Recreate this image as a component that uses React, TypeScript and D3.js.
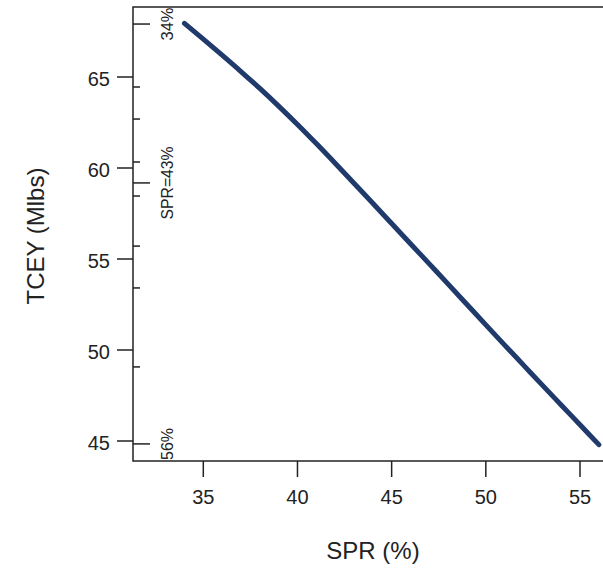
import React from "react";
import * as d3 from "d3";

const sprValues = [34, 35, 36, 37, 38, 39, 40, 41, 42, 43, 44, 45, 46, 47, 48, 49, 50, 51, 52, 53, 54, 55, 56];
const tceyValues = [67.95, 67.08, 66.2, 65.3, 64.37, 63.4, 62.39, 61.34, 60.26, 59.16, 58.06, 56.95, 55.84, 54.73, 53.62, 52.5, 51.38, 50.27, 49.17, 48.07, 46.98, 45.89, 44.8];

const xTicks = [35, 40, 45, 50, 55];
const yTicks = [45, 50, 55, 60, 65];

// inner reference marks on the y axis
const minorMarks = [64.45, 62.69, 60.33, 58.46, 55.71, 53.41, 49.07];
const majorMarkValues = [67.91, 59.18, 44.84];
const majorMarkLabels = ["34%", "SPR=43%", "56%"];
const majorMarkLengths = [33, 73, 32];

export default function App() {
  const W = 603;
  const H = 584;
  const left = 133;
  const top = 7;
  const bottom = 461;
  const right = 640;

  const x = d3.scaleLinear().domain([35, 55]).range([203.3, 580]);
  const y = d3.scaleLinear().domain([45, 65]).range([441, 77]);

  const pts: [number, number][] = sprValues.map((s, i) => [s, tceyValues[i]]);
  const line = d3
    .line<[number, number]>()
    .x((d) => x(d[0]))
    .y((d) => y(d[1]))
    .curve(d3.curveMonotoneX);

  const font = "'Liberation Sans', Arial, sans-serif";
  const navy = "#1f3a6b";

  return (
    <svg
      width={W}
      height={H}
      style={{ position: "absolute", left: 0, top: 0, background: "#fff" }}
      fontFamily={font}
    >
      <defs>
        <clipPath id="plotclip">
          <rect x={left} y={top} width={right - left} height={bottom - top} />
        </clipPath>
      </defs>
      <rect x={0} y={0} width={W} height={H} fill="#fff" />

      {/* curve */}
      <path
        d={line(pts) || ""}
        fill="none"
        stroke={navy}
        strokeWidth={5}
        strokeLinecap="round"
        strokeLinejoin="round"
        clipPath="url(#plotclip)"
      />

      {/* box */}
      <rect x={left} y={top} width={right - left} height={bottom - top} fill="none" stroke="#222" strokeWidth={1.5} />

      {/* inner minor marks */}
      {minorMarks.map((v, i) => (
        <line key={"mm" + i} x1={left} x2={left + 7} y1={y(v)} y2={y(v)} stroke="#222" strokeWidth={1.5} />
      ))}
      {/* inner major marks with labels */}
      {majorMarkValues.map((v, i) => (
        <g key={"MM" + i}>
          <line x1={left} x2={left + 17} y1={y(v)} y2={y(v)} stroke="#222" strokeWidth={1.5} />
          <text
            transform={`translate(173,${y(v)}) rotate(-90)`}
            textAnchor="middle"
            fontSize={17}
            fill="#222"
            textLength={majorMarkLengths[i]}
            lengthAdjust="spacingAndGlyphs"
          >
            {majorMarkLabels[i]}
          </text>
        </g>
      ))}

      {/* y axis ticks */}
      {yTicks.map((t) => (
        <g key={"y" + t}>
          <line x1={left - 16} x2={left} y1={y(t)} y2={y(t)} stroke="#222" strokeWidth={1.5} />
          <text x={110} y={y(t) + 2} dy="0.36em" textAnchor="end" fontSize={20} fill="#222">
            {t}
          </text>
        </g>
      ))}

      {/* x axis ticks */}
      {xTicks.map((t) => (
        <g key={"x" + t}>
          <line x1={x(t)} x2={x(t)} y1={bottom} y2={bottom + 16} stroke="#222" strokeWidth={1.5} />
          <text x={x(t)} y={497} dy="0.36em" textAnchor="middle" fontSize={20} fill="#222">
            {t}
          </text>
        </g>
      ))}

      {/* axis titles */}
      <text x={373} y={550} dy="0.36em" textAnchor="middle" fontSize={24} fill="#222">
        SPR (%)
      </text>
      <text
        transform={`translate(35,236) rotate(-90)`}
        dy="0.36em"
        textAnchor="middle"
        fontSize={24}
        fill="#222"
      >
        TCEY (Mlbs)
      </text>
    </svg>
  );
}
